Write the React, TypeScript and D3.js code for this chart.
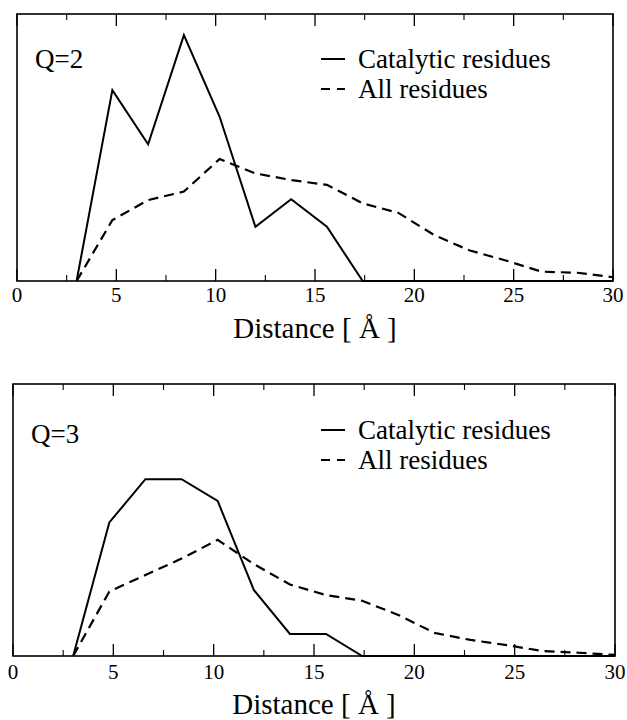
import React from "react";
import * as d3 from "d3";

const distances = [3.0, 4.8, 6.6, 8.4, 10.2, 12.0, 13.8, 15.6, 17.4, 19.2, 21.0, 22.8, 24.6, 26.4, 28.2, 30.0];

const q2Catalytic = [0, 0.715, 0.512, 0.921, 0.615, 0.203, 0.306, 0.203, 0, 0, 0, 0, 0, 0, 0, 0];
const q2All = [0, 0.228, 0.303, 0.335, 0.457, 0.403, 0.378, 0.36, 0.291, 0.255, 0.172, 0.114, 0.077, 0.035, 0.031, 0.014];

const q3Catalytic = [0, 0.491, 0.65, 0.65, 0.57, 0.243, 0.081, 0.081, 0, 0, 0, 0, 0, 0, 0, 0];
const q3All = [0, 0.237, 0.298, 0.358, 0.427, 0.338, 0.263, 0.224, 0.203, 0.151, 0.085, 0.059, 0.04, 0.018, 0.012, 0.004];

const majorTicks = [0, 5, 10, 15, 20, 25, 30];
const minorTicks = [2.5, 7.5, 12.5, 17.5, 22.5, 27.5];

const legendLabels = ["Catalytic residues", "All residues"];
const panelLabels = ["Q=2", "Q=3"];
const xLabel = "Distance [ Å ]";

const FONT = "Liberation Serif, Tinos, Times New Roman, Times, DejaVu Serif, serif";

type PanelProps = {
  left: number;
  right: number;
  top: number;
  bottom: number;
  label: string;
  labelX: number;
  labelY: number;
  legendY: number;
  catalytic: number[];
  all: number[];
  tickLabelY: number;
  axisLabelY: number;
};

function Panel(p: PanelProps) {
  const x = d3.scaleLinear().domain([0, 30]).range([p.left, p.right]);
  const y = d3.scaleLinear().domain([0, 1]).range([p.bottom, p.top]);
  const line = d3
    .line<number>()
    .x((_, i) => x(distances[i]))
    .y((v) => y(v));
  const major = 12;
  const minor = 6;
  const txt = { fontFamily: FONT };
  return (
    <g>
      <path d={line(p.all) || ""} fill="none" stroke="#000" strokeWidth={2.2} strokeDasharray="10,6" />
      <path d={line(p.catalytic) || ""} fill="none" stroke="#000" strokeWidth={2} strokeLinejoin="miter" />
      <rect x={p.left} y={p.top} width={p.right - p.left} height={p.bottom - p.top} fill="none" stroke="#000" strokeWidth={1.6} />
      {majorTicks.map((t) => (
        <g key={"M" + t}>
          <line x1={x(t)} x2={x(t)} y1={p.bottom} y2={p.bottom - major} stroke="#000" strokeWidth={1.3} />
          <line x1={x(t)} x2={x(t)} y1={p.top} y2={p.top + major} stroke="#000" strokeWidth={1.3} />
          <text x={x(t)} y={p.tickLabelY} textAnchor="middle" style={txt} fontSize={21} fill="#000">
            {t}
          </text>
        </g>
      ))}
      {minorTicks.map((t) => (
        <g key={"m" + t}>
          <line x1={x(t)} x2={x(t)} y1={p.bottom} y2={p.bottom - minor} stroke="#000" strokeWidth={1.1} />
          <line x1={x(t)} x2={x(t)} y1={p.top} y2={p.top + minor} stroke="#000" strokeWidth={1.1} />
        </g>
      ))}
      <text x={p.labelX} y={p.labelY} style={txt} fontSize={27} fill="#000">
        {p.label}
      </text>
      <line x1={321} x2={345} y1={p.legendY - 9} y2={p.legendY - 9} stroke="#000" strokeWidth={2} />
      <text x={358} y={p.legendY} style={txt} fontSize={27} fill="#000">
        {legendLabels[0]}
      </text>
      <line x1={321} x2={345} y1={p.legendY + 21} y2={p.legendY + 21} stroke="#000" strokeWidth={2} strokeDasharray="9,7" />
      <text x={358} y={p.legendY + 30} style={txt} fontSize={27} fill="#000">
        {legendLabels[1]}
      </text>
      <text x={(p.left + p.right) / 2} y={p.axisLabelY} textAnchor="middle" style={txt} fontSize={29} fill="#000">
        {xLabel}
      </text>
    </g>
  );
}

export default function App() {
  return (
    <svg
      width={627}
      height={720}
      viewBox="0 0 627 720"
      style={{ position: "absolute", left: 0, top: 0, background: "#fff" }}
    >
      <rect x={0} y={0} width={627} height={720} fill="#fff" />
      <Panel
        left={17}
        right={613}
        top={14}
        bottom={281}
        label={panelLabels[0]}
        labelX={35}
        labelY={68}
        legendY={68}
        catalytic={q2Catalytic}
        all={q2All}
        tickLabelY={302}
        axisLabelY={338}
      />
      <Panel
        left={13}
        right={615}
        top={384}
        bottom={656}
        label={panelLabels[1]}
        labelX={31}
        labelY={443}
        legendY={439}
        catalytic={q3Catalytic}
        all={q3All}
        tickLabelY={679}
        axisLabelY={714}
      />
    </svg>
  );
}
